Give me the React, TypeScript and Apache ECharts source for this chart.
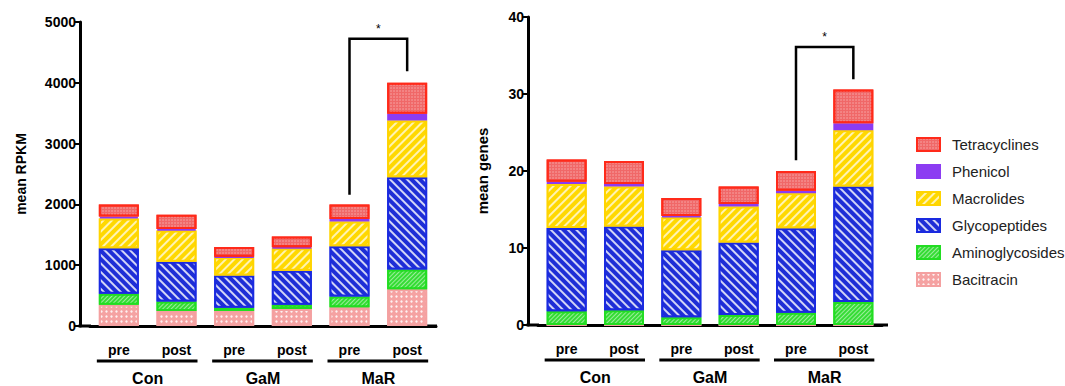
import React, { useEffect, useRef } from "react";
import * as echarts from "echarts";

const categories = ["pre", "post", "pre", "post", "pre", "post"];
const groups = ["Con", "GaM", "MaR"];
const legendOrder = ["Tetracyclines", "Phenicol", "Macrolides", "Glycopeptides", "Aminoglycosides", "Bacitracin"];

// mean RPKM (stack bottom -> top)
const bacitracinRpkm = [350, 245, 245, 280, 310, 605];
const aminoglycosidesRpkm = [180, 160, 55, 70, 175, 325];
const glycopeptidesRpkm = [750, 650, 530, 560, 825, 1515];
const macrolidesRpkm = [490, 515, 300, 370, 410, 935];
const phenicolRpkm = [30, 25, 10, 15, 40, 110];
const tetracyclinesRpkm = [200, 235, 160, 175, 240, 510];

// mean genes
const bacitracinGenes = [0, 0, 0, 0, 0, 0];
const aminoglycosidesGenes = [1.8, 1.9, 1.0, 1.3, 1.6, 3.0];
const glycopeptidesGenes = [10.8, 10.9, 8.7, 9.4, 10.95, 15.0];
const macrolidesGenes = [5.7, 5.2, 4.3, 4.7, 4.55, 7.3];
const phenicolGenes = [0.3, 0.3, 0.15, 0.3, 0.35, 0.9];
const tetracyclinesGenes = [2.9, 3.0, 2.35, 2.3, 2.55, 4.4];

const rpkmTicks = [0, 5000, 1000];
const genesTicks = [0, 40, 10];

// significance brackets: [preIndex, postIndex, preLegBottom, top, postLegBottom]
const sigRpkm = [4, 5, 2160, 4725, 4190];
const sigGenes = [4, 5, 21.4, 36.1, 31.9];

const FONT = "Liberation Sans";

const styles: Record<string, any> = {
  Bacitracin: {
    color: "#f5a2a2",
    borderColor: "#f4a0a0",
    decal: { symbol: "circle", symbolSize: 0.8, color: "rgba(255,255,255,0.85)", dashArrayX: [3, 2], dashArrayY: [3, 2] },
  },
  Aminoglycosides: {
    color: "#35dc35",
    borderColor: "#22dd22",
    decal: { symbol: "rect", symbolSize: 1, color: "rgba(255,255,255,0.5)", dashArrayX: [1, 0], dashArrayY: [1, 2], rotation: -Math.PI / 4 },
  },
  Glycopeptides: {
    color: "#1e2ed6",
    borderColor: "#1a2ae0",
    decal: { symbol: "rect", symbolSize: 1, color: "rgba(255,255,255,0.8)", dashArrayX: [1, 0], dashArrayY: [2, 4], rotation: Math.PI / 4 },
  },
  Macrolides: {
    color: "#ffd800",
    borderColor: "#ffd400",
    decal: { symbol: "rect", symbolSize: 1, color: "rgba(255,255,255,0.7)", dashArrayX: [1, 0], dashArrayY: [2, 4], rotation: -Math.PI / 4 },
  },
  Phenicol: { color: "#8c3cf2", borderColor: "#8c3cf2" },
  Tetracyclines: {
    color: "#f06868",
    borderColor: "#ff2a1a",
    decal: { symbol: "circle", symbolSize: 0.7, color: "rgba(255,255,255,0.45)", dashArrayX: [2, 1], dashArrayY: [2, 1] },
  },
};

const stackDefs = [
  { name: "Bacitracin", rpkm: bacitracinRpkm, genes: bacitracinGenes },
  { name: "Aminoglycosides", rpkm: aminoglycosidesRpkm, genes: aminoglycosidesGenes },
  { name: "Glycopeptides", rpkm: glycopeptidesRpkm, genes: glycopeptidesGenes },
  { name: "Macrolides", rpkm: macrolidesRpkm, genes: macrolidesGenes },
  { name: "Phenicol", rpkm: phenicolRpkm, genes: phenicolGenes },
  { name: "Tetracyclines", rpkm: tetracyclinesRpkm, genes: tetracyclinesGenes },
];

const grids = [
  { left: 90, width: 346, top: 22, height: 308 },
  { left: 538, width: 344, top: 17, height: 308 },
];

function makeXAxes() {
  const out: any[] = [];
  [0, 1].forEach((g) => {
    out.push({
      type: "category",
      gridIndex: g,
      data: categories,
      axisLine: { lineStyle: { color: "#000", width: 3 } },
      axisTick: { alignWithLabel: true, length: 10, lineStyle: { color: "#000", width: 3 } },
      axisLabel: { color: "#000", fontFamily: FONT, fontWeight: "bold", fontSize: 14, margin: 17, interval: 0 },
    });
    out.push({
      type: "category",
      gridIndex: g,
      position: "bottom",
      offset: 44,
      data: groups,
      axisLine: { show: false },
      axisTick: { show: false },
      axisLabel: { color: "#000", fontFamily: FONT, fontWeight: "bold", fontSize: 16, margin: 0, interval: 0 },
    });
  });
  return out;
}

function makeYAxis(g: number, ticks: number[], name: string, nameGap: number, nameSize: number) {
  return {
    type: "value",
    gridIndex: g,
    min: ticks[0],
    max: ticks[1],
    interval: ticks[2],
    offset: 10,
    name,
    nameLocation: "middle",
    nameRotate: 90,
    nameGap,
    nameTextStyle: { color: "#000", fontFamily: FONT, fontWeight: "bold", fontSize: nameSize },
    axisLine: { show: true, lineStyle: { color: "#000", width: 3 } },
    axisTick: { show: true, length: 5, lineStyle: { color: "#000", width: 2 } },
    axisLabel: {
      color: "#000",
      fontFamily: FONT,
      fontWeight: "bold",
      fontSize: 14,
      margin: 4,
      formatter: (v: number) => String(v),
    },
    splitLine: { show: false },
  };
}

function makeSeries() {
  const out: any[] = [];
  stackDefs.forEach((d) => {
    const st = styles[d.name];
    [0, 1].forEach((g) => {
      out.push({
        type: "bar",
        name: d.name,
        xAxisIndex: g * 2,
        yAxisIndex: g,
        stack: "s" + g,
        barWidth: 40,
        data: g === 0 ? d.rpkm : d.genes,
        itemStyle: { color: st.color, borderColor: st.borderColor, borderWidth: 2, decal: st.decal },
        emphasis: { disabled: true },
      });
    });
  });
  return out;
}

export default function App() {
  const ref = useRef<HTMLDivElement>(null);
  useEffect(() => {
    document.body.style.margin = "0";
    const chart = echarts.init(ref.current!, null, { renderer: "svg" });
    chart.setOption({
      animation: false,
      backgroundColor: "#fff",
      grid: grids,
      xAxis: makeXAxes(),
      yAxis: [
        makeYAxis(0, rpkmTicks, "mean RPKM", 52, 14),
        makeYAxis(1, genesTicks, "mean genes", 38, 15),
      ],
      legend: {
        orient: "vertical",
        left: 911,
        top: 132,
        icon: "rect",
        itemWidth: 23,
        itemHeight: 13,
        itemGap: 12,
        data: legendOrder,
        selectedMode: false,
        textStyle: { color: "#222", fontFamily: FONT, fontSize: 15, padding: [0, 0, 0, 7] },
      },
      series: makeSeries(),
    });

    const graphics: any[] = [];
    const line = (x1: number, y1: number, x2: number, y2: number, w = 3) =>
      graphics.push({ type: "line", shape: { x1, y1, x2, y2 }, style: { stroke: "#000", lineWidth: w } });
    [0, 1].forEach((g) => {
      const conv = (x: number, y: number) =>
        chart.convertToPixel({ xAxisIndex: g * 2, yAxisIndex: g } as any, [x, y]) as number[];
      const base = conv(0, 0);
      const last = conv(5, 0);
      const gl = grids[g].left;
      line(gl - 11.5, base[1], gl + 1, base[1]);
      line(last[0], base[1], gl + grids[g].width + (g === 0 ? 1 : 6), base[1]);
      for (let k = 0; k < 3; k++) {
        const a = conv(2 * k, 0);
        const b = conv(2 * k + 1, 0);
        line(a[0] - 22, base[1] + 35, b[0] + 21, base[1] + 35);
      }
      const s = g === 0 ? sigRpkm : sigGenes;
      const p1 = conv(s[0], s[2]);
      const p2 = conv(s[0], s[3]);
      const p3 = conv(s[1], s[3]);
      const p4 = conv(s[1], s[4]);
      graphics.push({
        type: "polyline",
        shape: { points: [p1, p2, p3, p4] },
        style: { stroke: "#000", lineWidth: 2.5, fill: null },
      });
      graphics.push({
        type: "text",
        x: (p2[0] + p3[0]) / 2,
        y: p2[1] - 10,
        style: { text: "*", fontFamily: FONT, fontSize: 12, fill: "#000", align: "center", verticalAlign: "middle" },
      });
    });
    chart.setOption({ graphic: graphics });
    return () => chart.dispose();
  }, []);
  return <div ref={ref} style={{ position: "fixed", left: 0, top: 0, width: 1065, height: 386 }} />;
}
